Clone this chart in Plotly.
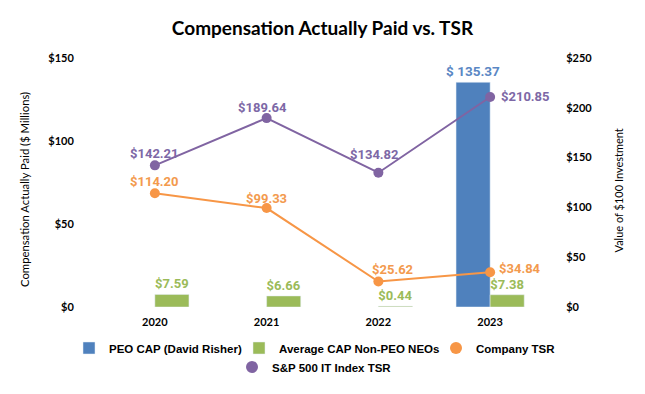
import plotly.graph_objects as go

# ---- data ----
years = ["2020", "2021", "2022", "2023"]
peo_cap = [None, None, None, 135.37]
neo_cap = [7.59, 6.66, 0.44, 7.38]
company_tsr = [114.20, 99.33, 25.62, 34.84]
sp_tsr = [142.21, 189.64, 134.82, 210.85]
left_ticks = [0, 50, 100, 150]
right_ticks = [0, 50, 100, 150, 200, 250]

# category positions on the x axis
xpos = list(range(len(years)))

# ---- styles ----
BLUE, BLUE_LBL = "#4F81BD", "#5A87C4"
GREEN, GREEN_LBL = "#9BBB59", "#9BBB59"
ORANGE, ORANGE_LBL = "#F79646", "#F39A4E"
PURPLE, PURPLE_LBL = "#8064A2", "#7D68A6"
LBL_FONT = "Roboto"
AX_FONT = "Lato"

W, H = 645, 394
ML, MR, MT, MB = 99, 99, 58, 87
PW, PH = W - ML - MR, H - MT - MB


def px_x(p):
    return (p - ML) / PW


def px_y(p):
    return (H - MB - p) / PH


# label offsets (xanchor, xshift, yshift)
orange_pos = [("center", 0, 12), ("center", 0, 10), ("center", 14, 12), ("left", 7, 4)]
purple_pos = [("center", 0, 12), ("center", -4, 11), ("center", -4, 18), ("left", 9, 0)]


def b(s):
    return f"<b>{s}</b>"


fig = go.Figure()

fig.add_trace(go.Bar(
    x=xpos, y=peo_cap, name=b("PEO CAP (David Risher)"),
    marker=dict(color=BLUE), texttemplate="<b>$ %{y:.2f}</b>",
    textposition="outside", cliponaxis=False, constraintext="none",
    textfont=dict(family=LBL_FONT, size=13.5, color=BLUE_LBL),
    legend="legend",
))
fig.add_trace(go.Bar(
    x=xpos, y=neo_cap, name=b("Average CAP Non-PEO NEOs"),
    marker=dict(color=GREEN), texttemplate="<b>$%{y:.2f}</b>",
    textposition="outside", cliponaxis=False, constraintext="none",
    textfont=dict(family=LBL_FONT, size=13, color=GREEN_LBL),
    legend="legend2",
))
fig.add_trace(go.Scatter(
    x=xpos, y=company_tsr, name="Company TSR", mode="lines+markers",
    line=dict(color=ORANGE, width=2), marker=dict(size=10, color=ORANGE),
    yaxis="y2", showlegend=False,
))
fig.add_trace(go.Scatter(
    x=xpos, y=sp_tsr, name="S&P 500 IT Index TSR", mode="lines+markers",
    line=dict(color=PURPLE, width=2), marker=dict(size=10, color=PURPLE),
    yaxis="y2", showlegend=False,
))
# legend-only entries (circle symbols, as in the reference legend)
fig.add_trace(go.Scatter(x=[None], y=[None], mode="markers", name=b("Company TSR"),
                         marker=dict(size=12, color=ORANGE), legend="legend3", yaxis="y2"))
fig.add_trace(go.Scatter(x=[None], y=[None], mode="markers", name=b("S&P 500 IT Index TSR"),
                         marker=dict(size=12, color=PURPLE), legend="legend4", yaxis="y2"))

annotations = []
for xp, v, (xa, xs, ys) in zip(xpos, company_tsr, orange_pos):
    annotations.append(dict(x=xp, y=v, xref="x", yref="y2", text=b(f"${v:.2f}"),
                            showarrow=False, xanchor=xa, yanchor="middle",
                            xshift=xs, yshift=ys,
                            font=dict(family=LBL_FONT, size=13, color=ORANGE_LBL)))
for xp, v, (xa, xs, ys) in zip(xpos, sp_tsr, purple_pos):
    annotations.append(dict(x=xp, y=v, xref="x", yref="y2", text=b(f"${v:.2f}"),
                            showarrow=False, xanchor=xa, yanchor="middle",
                            xshift=xs, yshift=ys,
                            font=dict(family=LBL_FONT, size=13, color=PURPLE_LBL)))
# axis titles
annotations.append(dict(text="Compensation Actually Paid ($ Millions)", textangle=-90,
                        xref="paper", yref="paper", x=px_x(25), y=px_y(190),
                        xanchor="center", yanchor="middle", showarrow=False,
                        font=dict(family=AX_FONT, size=11.3, color="#000000")))
annotations.append(dict(text="Value of $100 Investment", textangle=-90,
                        xref="paper", yref="paper", x=px_x(618), y=px_y(190.5),
                        xanchor="center", yanchor="middle", showarrow=False,
                        font=dict(family=AX_FONT, size=11, color="#000000")))

legend_font = dict(family="Liberation Sans", size=11.5, color="#000000")
tick_font = dict(family=AX_FONT, size=11, color="#000000")


def leg(text_left_px, row_center_px):
    return dict(orientation="h", x=px_x(text_left_px - 40), xanchor="left",
                y=px_y(row_center_px), yanchor="middle", font=legend_font,
                bgcolor="rgba(0,0,0,0)", borderwidth=0)


fig.update_layout(
    width=W, height=H,
    margin=dict(l=ML, r=MR, t=MT, b=MB),
    paper_bgcolor="white", plot_bgcolor="white",
    barmode="group", bargap=0.39,
    title=dict(text=b("Compensation Actually Paid vs. TSR"), x=0.5, xanchor="center",
               y=1 - 28 / H, yanchor="middle",
               font=dict(family=AX_FONT, size=19, color="#000000")),
    xaxis=dict(range=[-0.5, len(years) - 0.5], tickvals=xpos,
               ticktext=[b(y) for y in years],
               showline=False, showgrid=False, zeroline=False,
               ticks="outside", ticklen=5, tickcolor="rgba(0,0,0,0)",
               tickfont=tick_font),
    yaxis=dict(range=[0, 150], tickvals=left_ticks, ticktext=[b(f"${t}") for t in left_ticks],
               showgrid=False, zeroline=False, showline=False,
               ticks="outside", ticklen=22, tickcolor="rgba(0,0,0,0)",
               tickfont=tick_font),
    yaxis2=dict(range=[0, 250], tickvals=right_ticks, ticktext=[b(f"${t}") for t in right_ticks],
                showgrid=False, zeroline=False, showline=False,
                ticks="outside", ticklen=17, tickcolor="rgba(0,0,0,0)",
                overlaying="y", side="right",
                tickfont=tick_font),
    legend=leg(109, 348),
    legend2=leg(279, 348),
    legend3=leg(476, 348),
    legend4=leg(272, 367),
    annotations=annotations,
)

fig.write_html(
    "out.html",
    config={"displayModeBar": False},
    post_script="document.body.style.margin='0';document.body.style.padding='0';",
)
